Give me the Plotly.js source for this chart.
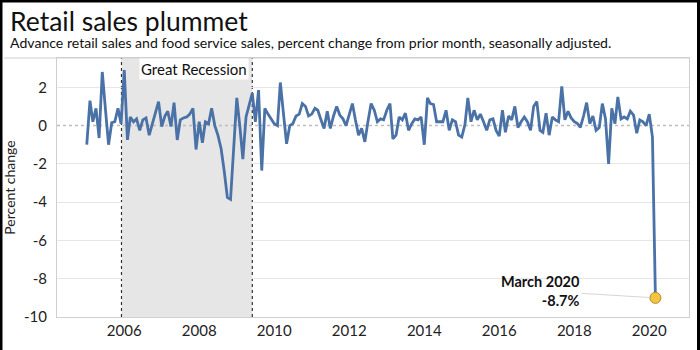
<!DOCTYPE html>
<html>
<head>
<meta charset="utf-8">
<script src="https://cdn.plot.ly/plotly-3.0.1.min.js"></script>
<style>html,body{margin:0;padding:0;background:#fff;}#chart{width:700px;height:350px;}</style>
</head>
<body>
<div id="chart"></div>
<script>
// Monthly series starting January 2005
const startYear = 2005;
const salesChange = [
  -1.0, 1.3, 0.2, 0.9, -0.65, 2.8, 0.9, -1.0, 0.15, 0.2, 0.9, 0.1,
  2.9, -0.75, 0.45, 0.2, 0.35, -0.25, 0.3, 0.4, -0.5, 0.1, 0.7, 1.25,
  -0.05, 0.5, 0.75, -0.05, 1.2, -0.75, 0.3, 0.4, 0.45, 0.6, 0.9, -1.25,
  0.2, -0.9, 0.2, 0.1, 0.9, 0, -0.5, -1.2, -2.4, -3.75, -3.85, -1.2,
  1.45, -0.1, -1.75, 0.45, 1.1, 1.7, 0.2, 1.85, -2.35, 0.9, 0.6, 0.35,
  0.1, 0, 2.25, 0.6, -0.95, 0, 0.1, 0.5, 0.6, 1.15, 1.0, 0.5,
  0.6, 0.9, 0.8, 0.3, -0.15, 0.75, -0.15, 0.5, 1.0, 0.55, 0.35, 0,
  0.6, 1.15, 0.3, -0.5, -0.15, -0.85, 0.2, 1.15, 0.8, 0.2, 0.35, 0.3,
  0.8, 1.15, -0.7, -0.5, 0.45, 0.3, 0.65, -0.25, 0.1, 0.35, 0.3, 0.45,
  -1.0, 1.45, 1.15, 1.1, 0.2, 0.2, 0.2, 0.8, -0.25, 0.3, 0.2, -0.5,
  -0.6, 0.05, 1.45, 0.2, 0.8, 0.3, 0.6, 0.2, -0.25, 0.3, 0.35, -0.25,
  -0.55, 0.8, -0.35, 0.5, 0.3, 1.0, -0.1, 0.2, 0.45, 0.2, -0.25, 1.0,
  1.25, -0.25, -0.35, 0.65, -0.5, 0.45, 0.3, 0.2, 2.05, 0.3, 0.75, 0.4,
  0.2, 0.1, -0.1, 0.5, 1.2, 0.1, 0.5, -0.25, -0.1, 1.15, 0.35, -2.0,
  0.9, 0.1, 1.5, 0.35, 0.45, 0.35, 0.75, 0.55, -0.4, 0.3, 0.2, 0,
  0.6, -0.6, -9.0
];
const tickYears = [2006, 2008, 2010, 2012, 2014, 2016, 2018, 2020];
const yTicks = [2, 0, -2, -4, -6, -8, -10];
const recessionStart = '2005-12-05';
const recessionEnd = '2009-06-01';
const recessionLabel = 'Great Recession';
const calloutLabel = '<b>March 2020<br>-8.7%</b>';
const titleText = 'Retail sales plummet';
const subtitleText = 'Advance retail sales and food service sales, percent change from prior month, seasonally adjusted.';

const dates = salesChange.map((_, i) => {
  const y = startYear + Math.floor(i / 12);
  const m = (i % 12) + 1;
  return y + '-' + String(m).padStart(2, '0') + '-01';
});
const lastDate = dates[dates.length - 1];
const lastVal = salesChange[salesChange.length - 1];

const FONT = 'Lato, "Open Sans", sans-serif';

const traces = [
  {
    x: dates, y: salesChange, type: 'scatter', mode: 'lines',
    line: {color: '#4a72a6', width: 2.8}, hoverinfo: 'skip'
  },
  {
    x: [lastDate], y: [lastVal], type: 'scatter', mode: 'markers',
    marker: {color: '#f4c542', size: 11, line: {color: '#b38b22', width: 1}}, hoverinfo: 'skip'
  }
];

// pixel helpers for paper coords (plot area x 57..689, y 58..317)
const px = p => (p - 57) / 632;
const py = p => (317 - p) / 259;

const layout = {
  width: 700, height: 350,
  margin: {l: 57, r: 11, t: 58, b: 33},
  paper_bgcolor: '#fff', plot_bgcolor: '#fff',
  showlegend: false,
  font: {family: FONT, color: '#222'},
  xaxis: {
    type: 'date', range: ['2004-03-17', '2021-01-22'],
    tickvals: tickYears.map(y => y + '-01-01'), ticktext: tickYears.map(String),
    tickfont: {size: 15, color: '#222', family: FONT},
    showgrid: false, zeroline: false, showline: true, linecolor: '#cfcfcf', linewidth: 1, mirror: true,
    ticks: '', fixedrange: true
  },
  yaxis: {
    range: [-10, 3.53], tickvals: yTicks, ticktext: yTicks.map(String),
    tickfont: {size: 15, color: '#222', family: FONT},
    showgrid: true, gridcolor: '#e6e6e6', gridwidth: 1,
    zeroline: true, zerolinecolor: 'rgba(0,0,0,0)',
    showline: true, linecolor: '#cfcfcf', linewidth: 1, mirror: true,
    ticks: '', ticklabelstandoff: 6,
    title: {text: 'Percent change', font: {size: 14, color: '#222', family: FONT}, standoff: 5}
  },
  shapes: [
    {type: 'rect', xref: 'x', yref: 'paper', x0: recessionStart, x1: recessionEnd, y0: 0, y1: 1,
     fillcolor: '#e6e6e6', line: {width: 0}, layer: 'below'},
    {type: 'line', xref: 'x', yref: 'paper', x0: recessionStart, x1: recessionStart, y0: 0, y1: 1,
     line: {color: '#333', width: 1.2, dash: 'dot'}, layer: 'below'},
    {type: 'line', xref: 'x', yref: 'paper', x0: recessionEnd, x1: recessionEnd, y0: 0, y1: 1,
     line: {color: '#333', width: 1.2, dash: 'dot'}, layer: 'below'},
    {type: 'line', xref: 'paper', yref: 'y', x0: 0, x1: 1, y0: 0, y1: 0,
     line: {color: '#bdbdbd', width: 1.5, dash: 'dot'}, layer: 'below'},
    {type: 'line', xref: 'paper', yref: 'paper', x0: px(4), x1: 1, y0: 1, y1: 1,
     line: {color: '#cfcfcf', width: 1}},
    {type: 'line', xref: 'paper', yref: 'paper', x0: px(1), x1: px(1), y0: py(0), y1: py(350),
     line: {color: '#000', width: 3}},
    {type: 'line', xref: 'paper', yref: 'paper', x0: px(0), x1: px(700), y0: py(1), y1: py(1),
     line: {color: '#000', width: 3}},
    {type: 'line', xref: 'paper', yref: 'paper', x0: px(698.5), x1: px(698.5), y0: py(0), y1: py(350),
     line: {color: '#000', width: 3}}
  ],
  annotations: [
    {text: titleText, xref: 'paper', yref: 'paper', x: px(8), y: py(21), xanchor: 'left', yanchor: 'middle',
     showarrow: false, font: {size: 26.5, color: '#111', family: FONT}},
    {text: subtitleText, xref: 'paper', yref: 'paper', x: px(8), y: py(43), xanchor: 'left', yanchor: 'middle',
     showarrow: false, font: {size: 14.1, color: '#111', family: FONT}},
    {text: recessionLabel, xref: 'x', yref: 'paper', x: '2007-11-15', y: 1, xanchor: 'center', yanchor: 'top',
     showarrow: false, bgcolor: '#fff', borderpad: 1, font: {size: 15, color: '#111', family: FONT}},
    {text: calloutLabel, xref: 'x', yref: 'y', x: lastDate, y: lastVal, ax: -115, ay: -7,
     showarrow: true, arrowhead: 0, arrowwidth: 1, arrowcolor: '#d6d6d6', standoff: 6,
     align: 'right', font: {size: 14.5, color: '#111', family: FONT}}
  ]
};

Plotly.newPlot('chart', traces, layout, {staticPlot: true, displayModeBar: false});
</script>
</body>
</html>
